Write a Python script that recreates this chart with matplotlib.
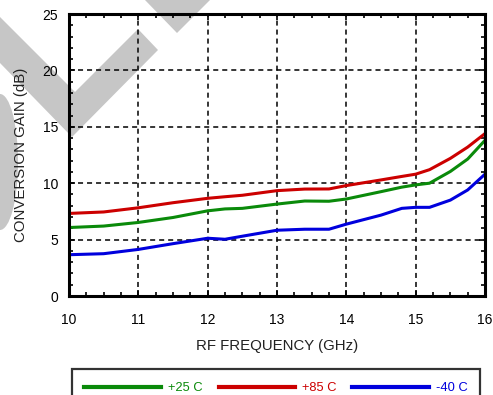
import numpy as np
import matplotlib
matplotlib.use("Agg")
import matplotlib.pyplot as plt
from matplotlib.patches import Polygon, Ellipse
from matplotlib.lines import Line2D
from matplotlib.ticker import MultipleLocator

plt.rcParams['font.family'] = ['Liberation Sans', 'DejaVu Sans']

# ---------------------------------------------------------------------------
# Conversion gain vs RF frequency at three temperatures
# ---------------------------------------------------------------------------
freq_ghz = [10.0, 10.5, 11.0, 11.5, 12.0, 12.25, 12.5, 13.0, 13.4, 13.75,
            14.0, 14.5, 14.8, 15.0, 15.2, 15.5, 15.75, 16.0]
gain_p25 = [6.07, 6.2, 6.52, 6.96, 7.55, 7.72, 7.77, 8.15, 8.42, 8.4,
            8.6, 9.25, 9.65, 9.85, 10.0, 11.04, 12.14, 13.8]
gain_p85 = [7.32, 7.45, 7.82, 8.27, 8.66, 8.8, 8.93, 9.34, 9.48, 9.49,
            9.79, 10.29, 10.6, 10.8, 11.2, 12.2, 13.2, 14.4]
gain_m40 = [3.66, 3.75, 4.13, 4.64, 5.12, 5.03, 5.3, 5.83, 5.92, 5.92,
            6.37, 7.17, 7.77, 7.86, 7.86, 8.5, 9.4, 10.8]

series = [("+25 C", gain_p25, "#0a8a0a"),
          ("+85 C", gain_p85, "#cc0000"),
          ("-40 C", gain_m40, "#0000dd")]

W, H = 493, 395
fig = plt.figure(figsize=(W / 100, H / 100), dpi=100)


def px(x, y):
    return (x / W, 1 - y / H)


# grey background stamp shapes, kept underneath the axes
grey = "#c6c6c6"
vee = Polygon([px(0, 17), px(75, 92), px(138, 29), px(158, 50), px(72, 137), px(0, 63)],
              closed=True, transform=fig.transFigure, facecolor=grey, edgecolor='none', zorder=-5)
tri = Polygon([px(145, 0), px(210, 0), px(177, 33)],
              closed=True, transform=fig.transFigure, facecolor=grey, edgecolor='none', zorder=-5)
arc = Ellipse(px(0, 162), 2 * 18 / W, 2 * 68 / H, transform=fig.transFigure,
              facecolor=grey, edgecolor='none', zorder=-5)
for p in (vee, tri, arc):
    fig.add_artist(p)

ax = fig.add_axes([69 / W, 1 - 296 / H, (485 - 69) / W, (296 - 14) / H])
ax.set_facecolor('none')

for label, vals, col in series:
    ax.plot(freq_ghz, vals, color=col, lw=2.2, label=label, zorder=3)

ax.set_xlim(10, 16)
ax.set_ylim(0, 25)
ax.xaxis.set_major_locator(MultipleLocator(1))
ax.xaxis.set_minor_locator(MultipleLocator(0.25))
ax.yaxis.set_major_locator(MultipleLocator(5))
ax.yaxis.set_minor_locator(MultipleLocator(1))

ax.tick_params(which='both', direction='in', top=True, right=True, color='black')
ax.tick_params(which='major', length=4, width=1.2, labelsize=10)
ax.tick_params(which='minor', length=3, width=1.2)
ax.tick_params(axis='x', which='major', pad=12)
ax.tick_params(axis='y', which='major', pad=8)

for s in ax.spines.values():
    s.set_linewidth(2.2)
    s.set_zorder(5)

ax.grid(True, which='major', color='black', linestyle=(0, (3.3, 2.6)), linewidth=1.1)

ax.set_xlabel("RF FREQUENCY (GHz)", fontsize=10.8, labelpad=9, color='#222222')
ax.set_ylabel("CONVERSION GAIN (dB)", fontsize=10.8, labelpad=10, color='#222222')

handles = [Line2D([], [], color=col, lw=3) for _, _, col in series]
leg = fig.legend(handles, [s[0] for s in series], loc='upper center',
                 bbox_to_anchor=px(276, 363), ncol=3, fontsize=9.3,
                 frameon=True, fancybox=False, borderpad=1.0,
                 handlelength=5.9, handletextpad=0.55, columnspacing=1.25,
                 labelcolor='linecolor')
leg.get_frame().set_edgecolor('black')
leg.get_frame().set_linewidth(1.6)

fig.savefig("out.png", dpi=100)
